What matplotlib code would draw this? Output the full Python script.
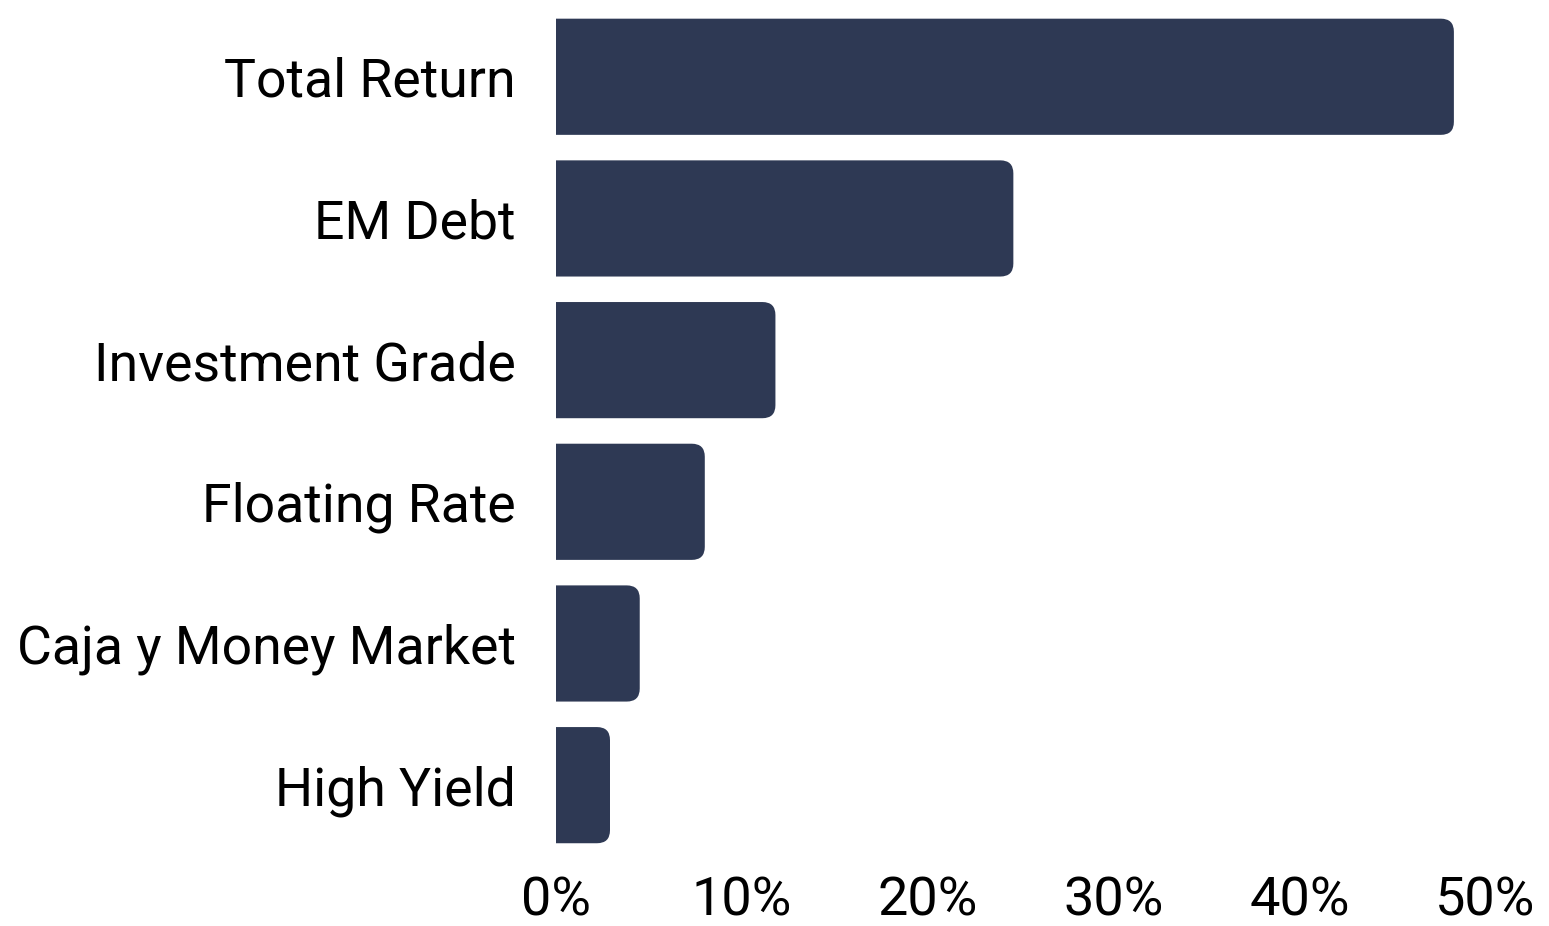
import matplotlib
matplotlib.use("Agg")
import matplotlib.pyplot as plt
from matplotlib.patches import FancyBboxPatch

categories = ["Total Return", "EM Debt", "Investment Grade", "Floating Rate",
              "Caja y Money Market", "High Yield"]
values = [48.3, 24.6, 11.8, 8.0, 4.5, 2.9]
ticks = [0, 10, 20, 30, 40, 50]
tick_labels = ["0%", "10%", "20%", "30%", "40%", "50%"]

color = "#2e3954"
plt.rcParams['font.family'] = ['Roboto', 'DejaVu Sans']

fig = plt.figure(figsize=(15.49, 9.26), dpi=100)
ax = fig.add_axes([0.359, 0.0756, 0.6, 0.918])
ax.set_xlim(0, 50)
ax.set_ylim(len(categories) - 0.5, -0.5)

h = 0.82
# px per data unit, used to keep the corner round
px_x = 0.6 * 1549 / 50
px_y = 0.918 * 926 / len(categories)
r = 13 / px_x
for i, v in enumerate(values):
    # start left of zero so the axes clip gives a square left edge
    p = FancyBboxPatch((-2 * r, i - h / 2), v + 2 * r, h,
                       boxstyle=f"round,pad=0,rounding_size={r}",
                       mutation_aspect=px_x / px_y,
                       fc=color, ec="none")
    ax.add_patch(p)

ax.set_yticks(range(len(categories)))
ax.set_yticklabels(categories, fontsize=38.6)
ax.set_xticks(ticks)
ax.set_xticklabels(tick_labels, fontsize=39)
ax.tick_params(length=0)
ax.tick_params(axis='y', pad=29)
ax.tick_params(axis='x', pad=14)
for s in ax.spines.values():
    s.set_visible(False)

fig.savefig("out.png", dpi=100)
